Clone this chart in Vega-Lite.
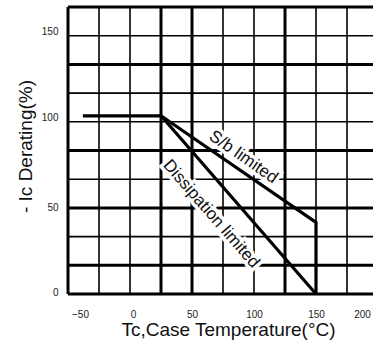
{
  "$schema": "https://vega.github.io/schema/vega-lite/v6.json",
  "width": 305,
  "height": 287,
  "autosize": {"type": "none"},
  "padding": {"left": 68, "top": 7, "right": 0, "bottom": 60},
  "background": "white",
  "config": {
    "font": "Liberation Sans",
    "view": {"stroke": null}
  },
  "datasets": {
    "vgrid": [
      {"x": -50, "kind": "major"}, {"x": -25, "kind": "minor"}, {"x": 0, "kind": "minor"},
      {"x": 25, "kind": "major"}, {"x": 50, "kind": "major"}, {"x": 75, "kind": "minor"},
      {"x": 100, "kind": "minor"}, {"x": 125, "kind": "major"}, {"x": 150, "kind": "minor"},
      {"x": 175, "kind": "minor"}
    ],
    "hgrid": [
      {"y": 0, "kind": "major"}, {"y": 16.67, "kind": "major"}, {"y": 33.33, "kind": "minor"},
      {"y": 50, "kind": "major"}, {"y": 66.67, "kind": "minor"}, {"y": 83.33, "kind": "major"},
      {"y": 100, "kind": "minor"}, {"y": 116.67, "kind": "minor"}, {"y": 133.33, "kind": "major"},
      {"y": 150, "kind": "minor"}, {"y": 166.67, "kind": "major"}
    ],
    "curves": [
      {"series": "S/b limited", "i": 0, "x": -38, "y": 103.5},
      {"series": "S/b limited", "i": 1, "x": 25, "y": 103.5},
      {"series": "S/b limited", "i": 2, "x": 150, "y": 41.6},
      {"series": "S/b limited", "i": 3, "x": 150, "y": 0},
      {"series": "Dissipation limited", "i": 0, "x": 25, "y": 103.5},
      {"series": "Dissipation limited", "i": 1, "x": 150, "y": 0}
    ],
    "labels": [
      {"label": "S/b limited", "x": 91.5, "y": 79.5},
      {"label": "Dissipation limited", "x": 65.5, "y": 46.5}
    ]
  },
  "layer": [
    {
      "data": {"name": "vgrid"},
      "mark": {"type": "rule", "color": "black"},
      "encoding": {
        "x": {
          "field": "x", "type": "quantitative",
          "scale": {"domain": [-50, 200], "range": [0, 310], "nice": false, "zero": false},
          "axis": {
            "orient": "bottom",
            "values": [-50, 0, 50, 100, 150, 200],
            "domain": false, "ticks": false, "grid": false,
            "labelFontSize": 10, "labelColor": "#222", "labelPadding": 15,
            "labelFlush": false, "labelOverlap": false,
            "labelOffset": {"condition": [{"test": "datum.value === -50", "value": 12}, {"test": "datum.value === 200", "value": -16}, {"test": "datum.value === 0", "value": 3}], "value": 0},
            "title": "Tc,Case Temperature(°C)",
            "titleFontSize": 19, "titleFontWeight": "normal", "titleColor": "#111",
            "titleX": 160, "titleY": 35, "titleBaseline": "middle", "titleAlign": "center", "titleAnchor": null
          }
        },
        "strokeWidth": {"field": "kind", "type": "nominal", "scale": {"domain": ["major", "minor"], "range": [3, 1.6]}, "legend": null}
      }
    },
    {
      "data": {"name": "hgrid"},
      "mark": {"type": "rule", "color": "black"},
      "encoding": {
        "y": {
          "field": "y", "type": "quantitative",
          "scale": {"domain": [0, 166.67], "nice": false, "zero": false},
          "axis": {
            "values": [0, 50, 100, 150],
            "domain": false, "ticks": false, "grid": false,
            "labelFontSize": 10, "labelColor": "#222", "labelPadding": 10,
            "labelOffset": {"condition": [{"test": "datum.value >= 100", "value": -4}, {"test": "datum.value === 0", "value": -2}], "value": 0},
            "title": "- Ic Derating(%)",
            "titleFontSize": 19, "titleFontWeight": "normal", "titleColor": "#111",
            "titleX": -43, "titleY": 139, "titleBaseline": "middle", "titleAlign": "center", "titleAngle": -90, "titleAnchor": null
          }
        },
        "strokeWidth": {"field": "kind", "type": "nominal", "scale": {"domain": ["major", "minor"], "range": [3, 1.6]}, "legend": null}
      }
    },
    {
      "data": {"name": "labels"},
      "transform": [{"filter": "datum.label === 'S/b limited'"}],
      "mark": {"type": "text", "angle": 35, "fontSize": 17, "stroke": "white", "strokeWidth": 7, "fill": "white", "align": "center", "baseline": "middle"},
      "encoding": {
        "x": {"field": "x", "type": "quantitative"},
        "y": {"field": "y", "type": "quantitative"},
        "text": {"field": "label"}
      }
    },
    {
      "data": {"name": "labels"},
      "transform": [{"filter": "datum.label === 'Dissipation limited'"}],
      "mark": {"type": "text", "angle": 49, "fontSize": 17, "stroke": "white", "strokeWidth": 7, "fill": "white", "align": "center", "baseline": "middle"},
      "encoding": {
        "x": {"field": "x", "type": "quantitative"},
        "y": {"field": "y", "type": "quantitative"},
        "text": {"field": "label"}
      }
    },
    {
      "data": {"name": "curves"},
      "mark": {"type": "line", "color": "black", "strokeWidth": 3.2},
      "encoding": {
        "x": {"field": "x", "type": "quantitative"},
        "y": {"field": "y", "type": "quantitative"},
        "detail": {"field": "series"},
        "order": {"field": "i", "type": "quantitative"}
      }
    },
    {
      "data": {"name": "labels"},
      "transform": [{"filter": "datum.label === 'S/b limited'"}],
      "mark": {"type": "text", "angle": 35, "fontSize": 17, "fill": "#111", "align": "center", "baseline": "middle"},
      "encoding": {
        "x": {"field": "x", "type": "quantitative"},
        "y": {"field": "y", "type": "quantitative"},
        "text": {"field": "label"}
      }
    },
    {
      "data": {"name": "labels"},
      "transform": [{"filter": "datum.label === 'Dissipation limited'"}],
      "mark": {"type": "text", "angle": 49, "fontSize": 17, "fill": "#111", "align": "center", "baseline": "middle"},
      "encoding": {
        "x": {"field": "x", "type": "quantitative"},
        "y": {"field": "y", "type": "quantitative"},
        "text": {"field": "label"}
      }
    }
  ]
}
